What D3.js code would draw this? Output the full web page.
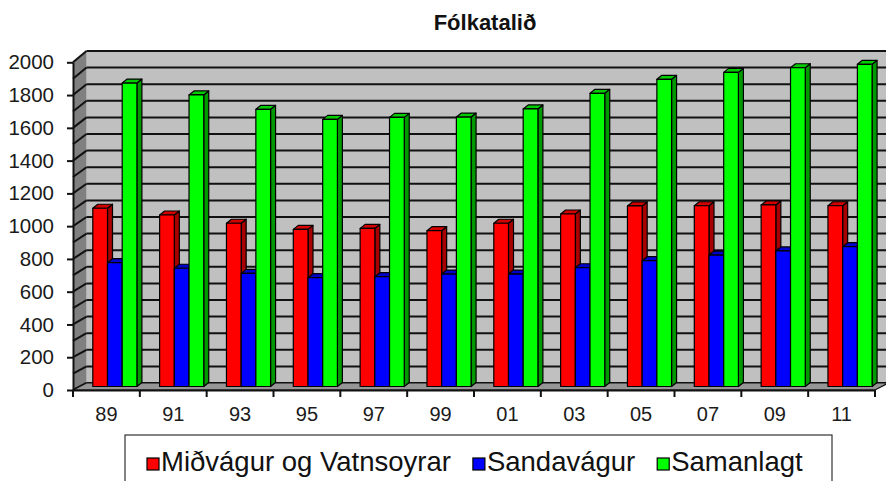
<!DOCTYPE html>
<html><head><meta charset="utf-8">
<script src="https://cdn.jsdelivr.net/npm/d3@7/dist/d3.min.js"></script>
<style>body{margin:0;background:#fff}svg{display:block;font-family:"Liberation Sans",Arial,sans-serif}</style>
</head><body><svg id="c" width="886" height="481"></svg>
<script>
const years = ["89","91","93","95","97","99","01","03","05","07","09","11"];
const midvagur = [1081,1040,990,953,959,945,990,1046,1095,1096,1101,1096];
const sandavagur = [751,717,686,660,666,682,682,720,763,797,822,848];
const samanlagt = [1840,1768,1681,1620,1632,1634,1683,1778,1863,1905,1933,1954];
const seriesNames = ["Miðvágur og Vatnsoyrar","Sandavágur","Samanlagt"];
const seriesColors = [
  {front:"#ff0000", side:"#a80000", top:"#d40000"},
  {front:"#0000ff", side:"#0000a0", top:"#0000cc"},
  {front:"#00ff00", side:"#009a00", top:"#00cc00"}];
const yTicks = d3.range(0, 2001, 200);
const gridVals = d3.range(0, 2001, 100);
const title = "Fólkatalið";

const svg = d3.select("#c");
const x0 = 73, x1 = 875, depthX = 13.5;
const yFront = d3.scaleLinear().domain([0,2000]).range([390, 62.3]);
const yBack = d3.scaleLinear().domain([0,2000]).range([383, 51]);
const yBar = d3.scaleLinear().domain([0,2000]).range([386.5, 56.7]);
const xBand = d3.scaleBand().domain(years).range([x0, x1]).padding(0);
const xInner = d3.scaleBand().domain([0,1,2]).range([15.3, 59.4]).padding(0);
const barDX = 4.5, bdx = 5, bdy = -4;

// back wall
svg.append("rect").attr("x", x0+depthX).attr("y", yBack(2000)).attr("width", 900).attr("height", yBack(0)-yBack(2000)).attr("fill", "#c0c0c0");
// left wall
svg.append("path").attr("d", `M${x0},${yFront(0)}L${x0},${yFront(2000)}L${x0+depthX},${yBack(2000)}L${x0+depthX},${yBack(0)}Z`).attr("fill", "#808080");
// grid lines
const g = svg.append("g").attr("stroke", "#111").attr("stroke-width", 2);
gridVals.forEach(v => {
  g.append("line").attr("x1", x0+depthX).attr("x2", 890).attr("y1", yBack(v)).attr("y2", yBack(v));
  g.append("line").attr("x1", x0).attr("x2", x0+depthX).attr("y1", yFront(v)).attr("y2", yBack(v));
});
// floor
svg.append("path").attr("d", `M${x0},${yFront(0)}L${x1},${yFront(0)}L${x1+depthX},${yBack(0)}L${x0+depthX},${yBack(0)}Z`).attr("fill", "#969696").attr("stroke", "#111").attr("stroke-width", 1.2);

// bars
const data = [midvagur, sandavagur, samanlagt];
const bars = svg.append("g").attr("stroke", "#000").attr("stroke-width", 1.2).attr("stroke-linejoin", "round");
years.forEach((yr, i) => {
  [0,1,2].forEach(k => {
    const v = data[k][i];
    const c = seriesColors[k];
    const bx = xBand(yr) + barDX + xInner(k);
    const w = xInner.bandwidth();
    const yt = yBar(v), yb = yBar(0);
    bars.append("path").attr("d", `M${bx+w},${yt}L${bx+w+bdx},${yt+bdy}L${bx+w+bdx},${yb+bdy}L${bx+w},${yb}Z`).attr("fill", c.side);
    bars.append("path").attr("d", `M${bx},${yt}L${bx+bdx},${yt+bdy}L${bx+w+bdx},${yt+bdy}L${bx+w},${yt}Z`).attr("fill", c.top);
    bars.append("rect").attr("x", bx).attr("y", yt).attr("width", w).attr("height", yb-yt).attr("fill", c.front);
  });
});

// y axis
const ya = svg.append("g").attr("transform", `translate(${x0},0)`)
  .call(d3.axisLeft(yFront).tickValues(yTicks).tickSize(6).tickSizeOuter(0).tickPadding(13).tickFormat(d3.format("d")));
ya.select(".domain").attr("stroke", "#111").attr("stroke-width", 2);
ya.selectAll(".tick line").attr("stroke", "#111").attr("stroke-width", 2);
ya.selectAll("text").attr("font-size", 20.5).attr("fill", "#1a1a1a").style("font-family", "Liberation Sans, Arial, sans-serif");

// x axis
const xa = svg.append("g").attr("transform", `translate(0,${yFront(0)})`)
  .call(d3.axisBottom(xBand).tickSize(0).tickPadding(17).tickSizeOuter(0));
xa.select(".domain").attr("stroke", "#111").attr("stroke-width", 2);
xa.selectAll("text").attr("font-size", 20).attr("fill", "#1a1a1a").style("font-family", "Liberation Sans, Arial, sans-serif");
const bounds = years.map(y => xBand(y)).concat([x1]);
xa.selectAll(".bt").data(bounds).join("line").attr("class","bt")
  .attr("x1", d => d).attr("x2", d => d).attr("y1", 0).attr("y2", 7).attr("stroke", "#111").attr("stroke-width", 2);

// title
svg.append("text").attr("x", 485).attr("y", 30).attr("text-anchor", "middle")
  .attr("font-size", 22).attr("font-weight", "bold").attr("fill", "#111").text(title);

// legend
const lg = svg.append("g");
lg.append("rect").attr("x", 125).attr("y", 435).attr("width", 707).attr("height", 60).attr("fill", "#fff").attr("stroke", "#333").attr("stroke-width", 1.2);
let lx = 147;
seriesNames.forEach((name, k) => {
  lg.append("rect").attr("x", lx).attr("y", 458).attr("width", 12).attr("height", 12).attr("fill", seriesColors[k].front).attr("stroke", "#000").attr("stroke-width", 1.2);
  const t = lg.append("text").attr("x", lx + 14).attr("y", 471).attr("font-size", 27.5).attr("fill", "#111").text(name);
  lx += 14 + t.node().getComputedTextLength() + 22;
});
</script></body></html>
